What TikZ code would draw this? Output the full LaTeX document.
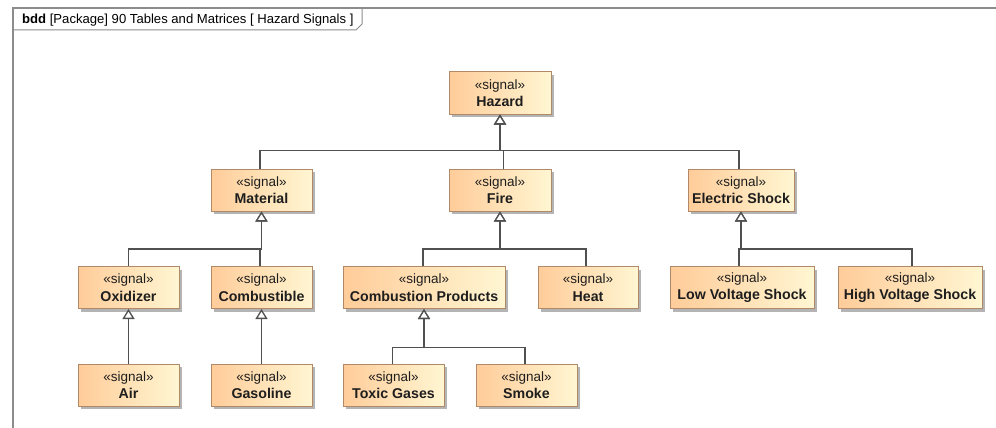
\documentclass[tikz,border=0pt]{standalone}
\usepackage{fontspec}
\setmainfont{Liberation Sans}
\usetikzlibrary{arrows.meta,shadows}
\definecolor{lineC}{HTML}{505050}
\definecolor{frameC}{HTML}{8C8C8C}
\definecolor{boxB}{HTML}{B08A68}
\definecolor{boxL}{HTML}{FFCC99}
\definecolor{boxR}{HTML}{FFF6D2}
\definecolor{shadowC}{HTML}{B4B4B4}
\definecolor{txtC}{HTML}{1E1E1E}
\newcommand{\sigtxt}[1]{{\fontsize{13.5}{17.5}\selectfont «signal»}\\{\fontsize{14.2}{17.5}\selectfont\bfseries #1}}
\begin{document}
\begin{tikzpicture}[x=1pt,y=-1pt,
  sigbox/.style={draw=boxB, line width=1pt, left color=boxL, right color=boxR,
    minimum height=42pt, inner sep=0pt, align=center, text=txtC,
    font=\fontsize{13.5}{17.5}\selectfont,
    drop shadow={shadow xshift=3pt, shadow yshift=-3pt, fill=shadowC, opacity=1}},
  gen/.style={draw=lineC, line width=1.3pt,
    -{Triangle[open,length=10pt,width=12pt,fill=white]}},
  framel/.style={draw=frameC, line width=1.6pt},
  tabl/.style={draw=frameC, line width=1pt}]
\useasboundingbox (0,0) rectangle (996,428);
% frame
\coordinate (f0) at (13,8);
\coordinate (f1) at (996,8);
\coordinate (f2) at (13,428);
\draw[framel] (f2) -- (f0) -- (f1);
\coordinate (t0) at (13,30);
\coordinate (t1) at (356,30);
\coordinate (t2) at (362,24);
\coordinate (t3) at (362,8);
\draw[tabl] (t0) -- (t1) -- (t2) -- (t3);
\node[anchor=base west, inner sep=0pt, font=\fontsize{13.1}{15}\selectfont, text=black] (title) at (22,24)
  {\textbf{bdd} [Package] 90 Tables and Matrices [ Hazard Signals ]};
% nodes
\node[sigbox, minimum width=102pt] (haz) at (500,93) {\sigtxt{Hazard}};
\node[sigbox, minimum width=101pt] (mat) at (261.5,190) {\sigtxt{Material}};
\node[sigbox, minimum width=102pt] (fire) at (500,190) {\sigtxt{Fire}};
\node[sigbox, minimum width=106pt] (es) at (741,190) {\sigtxt{Electric Shock}};
\node[sigbox, minimum width=101pt] (oxi) at (128.5,287.5) {\sigtxt{Oxidizer}};
\node[sigbox, minimum width=101pt] (comb) at (261.5,287.5) {\sigtxt{Combustible}};
\node[sigbox, minimum width=162pt] (cp) at (424,287.5) {\sigtxt{Combustion Products}};
\node[sigbox, minimum width=100pt] (heat) at (588,287.5) {\sigtxt{Heat}};
\node[sigbox, minimum width=144pt] (lvs) at (742,287.5) {\sigtxt{Low Voltage Shock}};
\node[sigbox, minimum width=144pt] (hvs) at (910,287.5) {\sigtxt{High Voltage Shock}};
\node[sigbox, minimum width=101pt] (air) at (128.5,385) {\sigtxt{Air}};
\node[sigbox, minimum width=101pt] (gas) at (261.5,385) {\sigtxt{Gasoline}};
\node[sigbox, minimum width=101pt] (tox) at (393.5,385) {\sigtxt{Toxic Gases}};
\node[sigbox, minimum width=101pt] (smk) at (526.5,385) {\sigtxt{Smoke}};
% bus levels
\coordinate (b0) at (0,150.5);
\coordinate (b1) at (0,249);
\coordinate (b2) at (0,347.5);
% generalizations
\draw[gen] ([xshift=-1.5pt]mat.north) -- ([xshift=-1.5pt]mat.north |- b0) -| (haz.south);
\draw[gen] ([xshift=3.5pt]fire.north) -- ([xshift=3.5pt]fire.north |- b0) -| (haz.south);
\draw[gen] ([xshift=-2pt]es.north) -- ([xshift=-2pt]es.north |- b0) -| (haz.south);
\draw[gen] (oxi.north) -- (oxi.north |- b1) -| (mat.south);
\draw[gen] ([xshift=-1.5pt]comb.north) -- ([xshift=-1.5pt]comb.north |- b1) -| (mat.south);
\draw[gen] ([xshift=-1pt]cp.north) -- ([xshift=-1pt]cp.north |- b1) -| (fire.south);
\draw[gen] ([xshift=-2pt]heat.north) -- ([xshift=-2pt]heat.north |- b1) -| (fire.south);
\draw[gen] ([xshift=-3pt]lvs.north) -- ([xshift=-3pt]lvs.north |- b1) -| (es.south);
\draw[gen] ([xshift=2pt]hvs.north) -- ([xshift=2pt]hvs.north |- b1) -| (es.south);
\draw[gen] (air.north) -- (oxi.south);
\draw[gen] (gas.north) -- (comb.south);
\draw[gen] ([xshift=-1pt]tox.north) -- ([xshift=-1pt]tox.north |- b2) -| (cp.south);
\draw[gen] ([xshift=-1.5pt]smk.north) -- ([xshift=-1.5pt]smk.north |- b2) -| (cp.south);
\end{tikzpicture}
\end{document}
